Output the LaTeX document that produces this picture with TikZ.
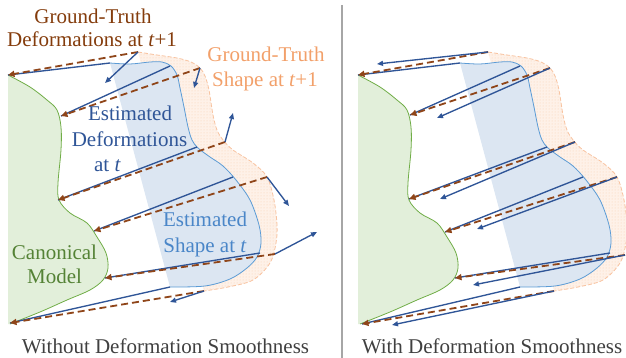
\documentclass[tikz,border=0pt]{standalone}
\usepackage{fontspec}
\setmainfont{Liberation Serif}
\usetikzlibrary{arrows.meta,patterns}
\definecolor{brn}{HTML}{8F4519}
\definecolor{brntext}{HTML}{843C0C}
\definecolor{dblue}{HTML}{2F5597}
\definecolor{lblue}{HTML}{5B9BD5}
\definecolor{lbluetext}{HTML}{4A86C8}
\definecolor{bluefill}{HTML}{DCE6F2}
\definecolor{orline}{HTML}{F8C3A0}
\definecolor{orfill}{HTML}{FEF1E8}
\definecolor{ordots}{HTML}{F9CFB2}
\definecolor{ortext}{HTML}{F2A06A}
\definecolor{grline}{HTML}{70AD47}
\definecolor{grfill}{HTML}{E2EFDA}
\definecolor{grtext}{HTML}{548235}
\definecolor{captext}{HTML}{404040}
\definecolor{divider}{HTML}{A6A6A6}
\newcommand{\drawpanelshapes}{%
  % canonical model (green)
  \fill[grfill] plot[smooth,tension=0.55] coordinates {(8,75) (30,87) (47,100) (57,110) (61,127) (61,150) (58,183) (59,200) (70,213) (87,223) (97,237) (106,253) (108,268) (103,280) (90,290) (67,300) (40,312) (10,324)} -- (8,324) -- cycle;
  \draw[grline,line width=0.8pt] plot[smooth,tension=0.55] coordinates {(8,75) (30,87) (47,100) (57,110) (61,127) (61,150) (58,183) (59,200) (70,213) (87,223) (97,237) (106,253) (108,268) (103,280) (90,290) (67,300) (40,312) (10,324)};
  % ground-truth shape at t+1 (orange)
  \fill[orfill] plot[smooth,tension=0.55] coordinates {(138,52) (157,55) (177,58) (191,62) (200,68) (205,76) (209,90) (213,115) (217,130) (223,140) (233,150) (253,163) (267,177) (274,200) (277,225) (276,243) (270,263) (253,280) (228,287) (204,291)} -- cycle;
  \fill[pattern=dots,pattern color=ordots] plot[smooth,tension=0.55] coordinates {(138,52) (157,55) (177,58) (191,62) (200,68) (205,76) (209,90) (213,115) (217,130) (223,140) (233,150) (253,163) (267,177) (274,200) (277,225) (276,243) (270,263) (253,280) (228,287) (204,291)} -- cycle;
  \draw[orline,line width=0.8pt,dash pattern=on 4pt off 2pt] plot[smooth,tension=0.55] coordinates {(138,52) (157,55) (177,58) (191,62) (200,68) (205,76) (209,90) (213,115) (217,130) (223,140) (233,150) (253,163) (267,177) (274,200) (277,225) (276,243) (270,263) (253,280) (228,287) (204,291)};
  % estimated shape at t (blue)
  \fill[bluefill] plot[smooth,tension=0.55] coordinates {(110,63) (130,64) (150,62) (162,62) (171,66) (177,75) (180,88) (184,107) (188,127) (192,140) (198,148) (210,157) (223,166) (236,180) (250,200) (259,225) (261,243) (257,257) (247,268) (230,279) (205,286) (170,287)} -- cycle;
  \draw[lblue,line width=0.8pt] plot[smooth,tension=0.55] coordinates {(110,63) (130,64) (150,62) (162,62) (171,66) (177,75) (180,88) (184,107) (188,127) (192,140) (198,148) (210,157) (223,166) (236,180) (250,200) (259,225) (261,243) (257,257) (247,268) (230,279) (205,286) (170,287)};
}
\begin{document}
\begin{tikzpicture}[x=1pt,y=-1pt,
  gtarrow/.style={draw=brn,line width=1.8pt,dash pattern=on 7pt off 4pt,-{Triangle[length=6.5pt,width=6pt]}},
  estline/.style={draw=dblue,line width=1.35pt},
  estarrow/.style={draw=dblue,line width=1.35pt,-{Triangle[length=6pt,width=5pt]}},
  lbl/.style={anchor=base,inner sep=0pt,font=\fontsize{21}{24}\selectfont}]
\useasboundingbox (0,0) rectangle (626,358);
\clip (0,0) rectangle (626,358);

% shapes in both panels
\begin{scope}
  \drawpanelshapes
\end{scope}
\begin{scope}[shift={(350,0)}]
  \drawpanelshapes
\end{scope}

% divider
\draw[divider,line width=1.8pt] (342,5) -- (342,358);

% ---------------- left panel points ----------------
\coordinate (Lg1) at (8,75);   \coordinate (Lg2) at (61,116);
\coordinate (Lg3) at (58,200); \coordinate (Lg4) at (94,231);
\coordinate (Lg5) at (105,278);\coordinate (Lg6) at (10,323);
\coordinate (Lb1) at (110,63); \coordinate (Lb2) at (170,66);
\coordinate (Lb3) at (197,147);\coordinate (Lb4) at (233,177);
\coordinate (Lb5) at (260,253);\coordinate (Lb6) at (170,287);
\coordinate (Lo1) at (138,52); \coordinate (Lo2) at (200,68);
\coordinate (Lo3) at (225,142);\coordinate (Lo4) at (267,177);
\coordinate (Lo5) at (275,254);\coordinate (Lo6) at (204,291);
\coordinate (Le1) at (105,83); \coordinate (Le2) at (194,88);
\coordinate (Le3) at (233,113);\coordinate (Le4) at (289,206);
\coordinate (Le5) at (317,232);\coordinate (Le6) at (170,302);

% ---------------- right panel points ----------------
\coordinate (Rg1) at (358,75);  \coordinate (Rg2) at (410,115);
\coordinate (Rg3) at (409,199); \coordinate (Rg4) at (445,232);
\coordinate (Rg5) at (455,278); \coordinate (Rg6) at (362,324);
\coordinate (Rb1) at (460,63);  \coordinate (Rb2) at (520,66);
\coordinate (Rb3) at (547,147); \coordinate (Rb4) at (583,177);
\coordinate (Rb5) at (610,253); \coordinate (Rb6) at (520,287);
\coordinate (Ro1) at (488,52);  \coordinate (Ro2) at (550,68);
\coordinate (Ro3) at (575,142); \coordinate (Ro4) at (617,177);
\coordinate (Ro5) at (625,255); \coordinate (Ro6) at (554,291);
\coordinate (Re1) at (377,64);  \coordinate (Re2) at (437,118);
\coordinate (Re3) at (440,199); \coordinate (Re4) at (477,229);
\coordinate (Re5) at (473,285); \coordinate (Re6) at (392,325);

\foreach \p in {L,R}{
  \foreach \i in {1,...,6}{
    \draw[estline] (\p b\i) -- (\p g\i);
    \draw[gtarrow] (\p o\i) -- (\p g\i);
    \draw[estarrow] (\p o\i) -- (\p e\i);
  }
}

% ---------------- labels ----------------
\node[lbl,text=brntext] (gtd1) at (93,24) {Ground-Truth};
\node[lbl,text=brntext] (gtd2) at (92,47) {Deformations at \textit{t}+1};
\node[lbl,text=ortext] (gts1) at (266,62) {Ground-Truth};
\node[lbl,text=ortext] (gts2) at (265,87) {Shape at \textit{t}+1};
\node[lbl,text=dblue] (ed1) at (130,121) {Estimated};
\node[lbl,text=dblue] (ed2) at (129.5,147) {Deformations};
\node[lbl,text=dblue] (ed3) at (107.5,172) {at \textit{t}};
\node[lbl,text=lbluetext] (es1) at (205,226) {Estimated};
\node[lbl,text=lbluetext] (es2) at (205,252) {Shape at \textit{t}};
\node[lbl,text=grtext] (cm1) at (54.5,259) {Canonical};
\node[lbl,text=grtext] (cm2) at (54.5,283) {Model};
\node[lbl,text=captext] (capL) at (165.5,353) {Without Deformation Smoothness};
\node[lbl,text=captext] (capR) at (492,353) {With Deformation Smoothness};
\end{tikzpicture}
\end{document}
